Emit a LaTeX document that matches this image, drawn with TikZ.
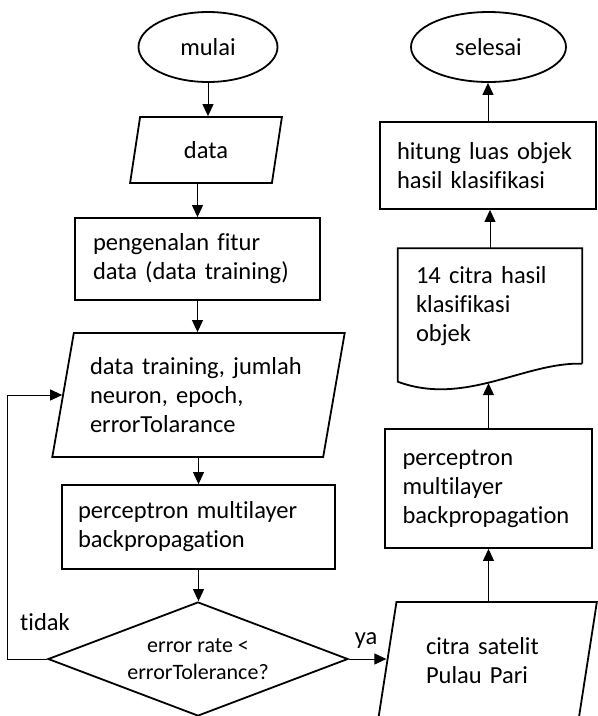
\documentclass[tikz,border=0pt]{standalone}
\usepackage{fontspec}
\setmainfont{Carlito}[Ligatures={NoCommon,NoContextual}]
\usepackage{tikz}
\usetikzlibrary{shapes.geometric,arrows.meta,calc,positioning}

\begin{document}
\begin{tikzpicture}[x=1pt,y=-1pt,
    every node/.style={font=\fontsize{24.5pt}{29pt}\selectfont},
    shp/.style={draw,line width=1.8pt,inner sep=0pt},
    terminal/.style={shp,ellipse},
    io/.style={shp,trapezium,trapezium stretches=true,align=left},
    process/.style={shp,rectangle,align=left},
    decision/.style={shp,diamond,align=center,font=\fontsize{22pt}{27pt}\selectfont},
    docbox/.style={rectangle,inner sep=0pt,align=left},
    arr/.style={line width=1pt,-{Triangle[length=12pt,width=11pt]}}]
    \clip (0,0) rectangle (598,716);

    % Left column
    \node[terminal,minimum width=139pt,minimum height=70pt] (mulai) at (208,47) {mulai};
    \node[io,trapezium left angle=79,trapezium right angle=101,
          minimum width=152pt,minimum height=66pt] (data) at (206,150) {data};
    \node[process,text width=209pt,minimum width=245pt,minimum height=82pt] (peng) at (197.5,259)
        {pengenalan fitur\\data (data training)};
    \node[io,trapezium left angle=76,trapezium right angle=104,text width=217pt,
          minimum width=293pt,minimum height=124pt] (param) at (198.5,395)
        {data training, jumlah\\neuron, epoch,\\errorTolarance};
    \node[process,text width=241pt,minimum width=273pt,minimum height=84pt] (mlp) at (198.5,527)
        {perceptron multilayer\\backpropagation};
    \node[decision,minimum width=300pt,minimum height=114pt,shape aspect=2.63] (cek) at (198,659)
        {error rate <\\errorTolerance?};

    % Right column
    \node[io,trapezium left angle=75,trapezium right angle=105,text width=123pt,
          minimum width=219pt,minimum height=118pt] (citra) at (487.5,661)
        {citra satelit\\Pulau Pari};
    \node[process,text width=172pt,minimum width=207pt,minimum height=119pt] (mlp2) at (488.5,488.5)
        {perceptron\\multilayer\\backpropagation};
    \node[docbox,text width=148pt,minimum width=184pt,minimum height=115pt] (hasil) at (490,306)
        {14 citra hasil\\klasifikasi\\objek};
    \draw[line width=1.8pt] (hasil.south east) -- (hasil.north east) -- (hasil.north west)
        -- ($(hasil.south west)+(0,18)$)
        .. controls ($(hasil.south west)+(67,43)$) and ($(hasil.south east)+(-57,-2)$) .. (hasil.south east);
    \coordinate (hasilb) at ($(hasil.south)+(0,19.5)$);
    \node[process,text width=182pt,minimum width=216pt,minimum height=87pt] (luas) at (488,165.5)
        {hitung luas objek\\hasil klasifikasi};
    \node[terminal,minimum width=155pt,minimum height=70pt] (selesai) at (488.5,47) {selesai};

    % Labels
    \node (tidak) at (45,622) {tidak};
    \node (ya) at (366,641) {ya};

    % Connectors
    \draw[arr] (mulai.south) -- (mulai.south |- data.north);
    \draw[arr] (peng.north |- data.south) -- (peng.north);
    \draw[arr] (peng.south) -- (peng.south |- param.north);
    \draw[arr] (param.south) -- (param.south |- mlp.north);
    \draw[arr] (mlp.south) -- (mlp.south |- cek.north);
    \draw[arr] (cek.west) -- ++(-40,0) |- (param.west);
    \draw[arr] (cek.east) -- (cek.east -| citra.west);
    \draw[arr] (mlp2.south |- citra.north) -- (mlp2.south);
    \draw[arr] (mlp2.north) -- (mlp2.north |- hasilb);
    \draw[arr] (hasil.north) -- (hasil.north |- luas.south);
    \draw[arr] (luas.north) -- (luas.north |- selesai.south);
\end{tikzpicture}
\end{document}
